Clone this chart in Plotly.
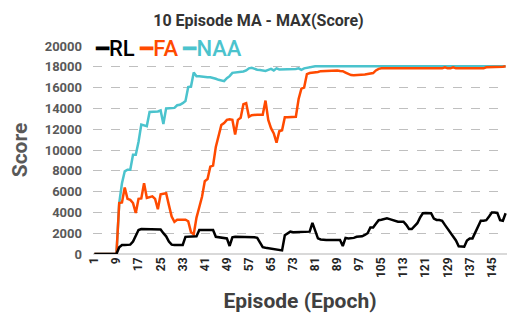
import plotly.graph_objects as go

episodes = list(range(1, 151))

rl = [0] * 9 + [
    650, 870, 870, 870, 900, 1200, 1700, 2300, 2400, 2400,
    2350, 2350, 2350, 2350, 2350, 2350, 2000, 1700, 1200, 900,
    870, 870, 870, 870, 1650, 1650, 1650, 1650, 1700, 2300,
    2300, 2300, 2350, 2350, 2300, 1650, 1600, 1550, 1550, 1500,
    770, 1600, 1650, 1650, 1650, 1650, 1600, 1600, 1600, 1600,
    1550, 1100, 650, 600, 550, 500, 450, 420, 400, 350,
    1800, 2000, 2150, 2100, 2100, 2100, 2100, 2100, 2100, 2150,
    3000, 2200, 1500, 1400, 1350, 1350, 1350, 1350, 1350, 1350,
    1350, 770, 1550, 1500, 1500, 1550, 1650, 1700, 1700, 1830,
    2000, 2550, 2550, 2900, 3250, 3300, 3350, 3430, 3350, 3250,
    3150, 3100, 3100, 3100, 2800, 2400, 2400, 2700, 2960, 3500,
    3920, 3950, 3950, 3920, 3400, 3270, 3270, 3200, 2800, 2440,
    2000, 1670, 1300, 750, 700, 700, 1300, 1500, 1500, 2100,
    2600, 3200, 3200, 3250, 3600, 3980, 3980, 3950, 3250, 3200,
    3920,
]

fa = [0] * 9 + [
    4900, 4950, 6400, 5300, 5200, 4900, 3950, 5300, 5350, 6800,
    5400, 5500, 5550, 5300, 4300, 5750, 5800, 5850, 4700, 3600,
    3100, 3300, 3300, 3300, 3300, 3150, 2100, 1900, 3500, 4500,
    5500, 7000, 7200, 8400, 8500, 10300, 11300, 12400, 12600, 12900,
    12950, 12900, 11500, 12900, 13100, 14400, 14500, 13200, 13350, 13400,
    13400, 13400, 13400, 14750, 12900, 12100, 11600, 10700, 11800, 11900,
    13150, 13150, 13150, 13150, 13200, 14900, 15900, 16000, 17300, 17400,
    17420, 17450, 17500, 17580, 17600, 17600, 17650, 17680, 17680, 17650,
    17600, 17580, 17450, 17300, 17200, 17180, 17180, 17200, 17200, 17250,
    17300, 17350, 17400, 17650, 17800,
] + [17850] * 23 + [17950, 17850, 17850, 17950] + [17850] * 11 + [17950] * 6 + [18000, 18050]

naa = [0] * 9 + [
    4900, 6800, 7950, 8100, 8100, 9550, 9550, 10800, 12450, 12400,
    12300, 13650, 13650, 13650, 13700, 13800, 12500, 14000, 14000, 14000,
    14050, 14300, 14350, 14500, 14700, 16050, 16100, 17450, 17100, 17100,
    17050, 17050, 17000, 17000, 16950, 16850, 16750, 16650, 16620, 16900,
    17100, 17420, 17450, 17500, 17520, 17550, 17650, 17850, 17900, 17800,
    17720, 17700, 17650, 17600, 17700, 17800, 17650, 17850, 17750, 17750,
    17750, 17780, 17750, 17780, 17800, 17850, 17700, 17850, 17900, 18000,
] + [18050] * 71

names = ["RL", "FA", "NAA"]
colors = {"RL": "#000000", "FA": "#FF4A00", "NAA": "#4BC3CD"}
series = {"RL": rl, "FA": fa, "NAA": naa}

x_ticks = list(range(1, 151, 8))
y_ticks = list(range(0, 20001, 2000))

fig = go.Figure()
# drawn back to front: NAA underneath, RL on top
for name in reversed(names):
    fig.add_trace(go.Scatter(
        x=episodes,
        y=series[name],
        mode="lines",
        name=name,
        line=dict(color=colors[name], width=2.5),
    ))

# legend as one line of coloured text, like the original
legend_text = " ".join(
    f"<span style='color:{colors[n]}'>━{n}</span>" for n in names
)
fig.add_annotation(
    text=legend_text,
    xref="paper", yref="paper",
    x=0.0, y=0.99,
    xanchor="left", yanchor="middle",
    showarrow=False,
    font=dict(family="Roboto", size=22, weight=500),
    bgcolor="white",
)

# page body has an 8px margin, so the figure is a bit smaller than the window
fig.update_layout(
    width=501,
    height=307,
    margin=dict(l=85, r=2, t=38, b=61),
    paper_bgcolor="white",
    plot_bgcolor="white",
    showlegend=False,
    title=dict(
        text="10 Episode MA - MAX(Score)",
        x=0.5, xanchor="center",
        y=1 - 12 / 307, yanchor="middle",
        font=dict(family="Roboto", size=16, color="#333333", weight="bold"),
    ),
    font=dict(family="Roboto"),
)
fig.update_xaxes(
    range=[0.5, 150.5],
    tickvals=x_ticks,
    tickangle=-90,
    tickfont=dict(size=12, color="#262626", weight="bold"),
    showgrid=False,
    zeroline=False,
    showline=False,
    title=dict(
        text="Episode (Epoch)",
        font=dict(size=21, color="#404040", weight="bold"),
        standoff=16,
    ),
)
fig.update_yaxes(
    range=[0, 20000],
    tickvals=y_ticks,
    tickformat="d",
    tickfont=dict(size=13, color="#595959", weight="bold"),
    ticklabelstandoff=10,
    showgrid=True,
    gridcolor="#BFBFBF",
    griddash="dash",
    gridwidth=1,
    zeroline=True,
    zerolinecolor="#D9D9D9",
    zerolinewidth=1.5,
    title=dict(
        text="Score",
        font=dict(size=21, color="#595959", weight="bold"),
        standoff=18,
    ),
)

fig.write_html("out.html")
